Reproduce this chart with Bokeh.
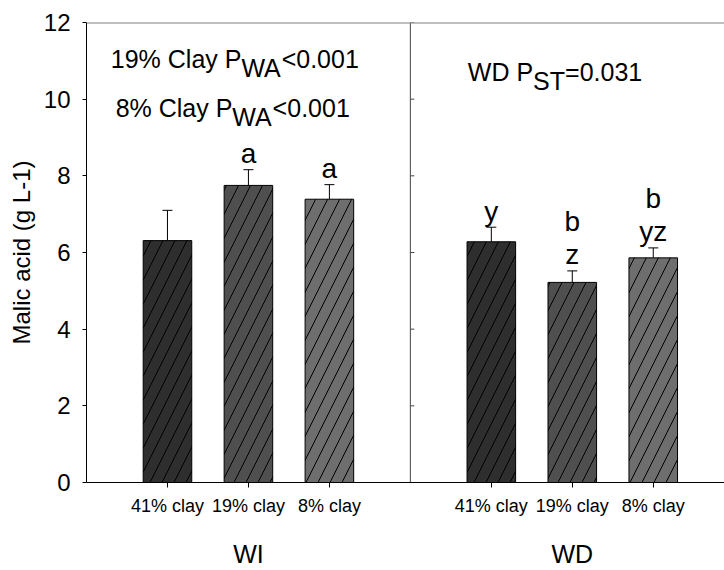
from bokeh.plotting import figure
from bokeh.models import (ColumnDataSource, Range1d, FixedTicker, LinearAxis, Span,
                          Whisker, TeeHead, Label)
from bokeh.embed import file_html
from bokeh.resources import INLINE

# ---- data ----
groups = ["WI", "WD"]
soils = ["41% clay", "19% clay", "8% clay"]
wi_means = [6.31, 7.75, 7.39]
wi_errs = [0.79, 0.41, 0.38]
wd_means = [6.28, 5.22, 5.86]
wd_errs = [0.38, 0.30, 0.26]
wi_letters = [[], ["a"], ["a"]]
wd_letters = [["y"], ["z", "b"], ["yz", "b"]]
soil_colors = ["#2e2e2e", "#4f4f4f", "#6e6e6e"]
y_ticks = [0, 2, 4, 6, 8, 10, 12]

FONT = "Liberation Sans"

# positions: group g, soil i -> g*4 + i + 1
xs, tops, errs, cols, labels_list, tick_labels = [], [], [], [], [], {}
for g, (means, es, lets) in enumerate([(wi_means, wi_errs, wi_letters),
                                       (wd_means, wd_errs, wd_letters)]):
    for i in range(3):
        x = g * 4 + i + 1
        xs.append(x)
        tops.append(means[i])
        errs.append(es[i])
        cols.append(soil_colors[i])
        labels_list.append(lets[i])
        tick_labels[x] = soils[i]

src = ColumnDataSource(dict(x=xs, top=tops, upper=[t + e for t, e in zip(tops, errs)],
                            color=cols))

p = figure(width=724, height=570, output_backend="svg", toolbar_location=None,
           x_range=Range1d(0.0, 7.88), y_range=Range1d(0, 12),
           min_border_left=86, min_border_right=0, min_border_top=22, min_border_bottom=88)
p.outline_line_color = None
p.grid.visible = False
p.background_fill_color = "white"

p.vbar(x="x", top="top", bottom=0, width=0.6, source=src, fill_color="color",
       line_color="black", line_width=1, hatch_pattern="/", hatch_color="black",
       hatch_scale=24, hatch_weight=1)

wh = Whisker(base="x", lower="top", upper="upper", source=src, dimension="height",
             line_color="black", line_width=1,
             upper_head=TeeHead(size=10, line_color="black", line_width=1), lower_head=None)
p.add_layout(wh)

# divider and top border
p.add_layout(Span(location=4, dimension="height", line_color="#444444", line_width=1))
p.add_layout(Span(location=12, dimension="width", line_color="#808080", line_width=2))
p.segment(x0=[4] * len(y_ticks), x1=[4 + 4 / 81] * len(y_ticks), y0=y_ticks, y1=y_ticks,
          line_color="#444444", line_width=1)

# axes
p.yaxis.ticker = FixedTicker(ticks=y_ticks)
p.yaxis.minor_tick_line_color = None
p.yaxis.major_tick_out = 4
p.yaxis.major_tick_in = 0
p.yaxis.major_label_text_font = FONT
p.yaxis.major_label_text_font_size = "24px"
p.yaxis.major_label_text_color = "black"
p.yaxis.major_label_standoff = 12
p.yaxis.axis_line_color = "black"
p.yaxis.major_tick_line_color = "black"
p.yaxis.axis_label = "Malic acid (g L-1)"
p.yaxis.axis_label_text_font = FONT
p.yaxis.axis_label_text_font_size = "24px"
p.yaxis.axis_label_text_font_style = "normal"
p.yaxis.axis_label_text_color = "black"
p.yaxis.axis_label_standoff = 6

p.xaxis.ticker = FixedTicker(ticks=xs)
p.xaxis.major_label_overrides = tick_labels
p.xaxis.minor_tick_line_color = None
p.xaxis.major_tick_out = 5
p.xaxis.major_tick_in = 0
p.xaxis.major_label_text_font = FONT
p.xaxis.major_label_text_font_size = "18px"
p.xaxis.major_label_text_color = "black"
p.xaxis.major_label_standoff = 8
p.xaxis.axis_line_color = "black"

gaxis = LinearAxis(ticker=FixedTicker(ticks=[2, 6]),
                   major_label_overrides={2: groups[0], 6: groups[1]})
gaxis.axis_line_color = None
gaxis.major_tick_line_color = None
gaxis.minor_tick_line_color = None
gaxis.major_label_text_font = FONT
gaxis.major_label_text_font_size = "25px"
gaxis.major_label_text_color = "black"
gaxis.major_label_standoff = 15
p.add_layout(gaxis, "below")

# significance letters above error bars
for x, up, lets in zip(xs, src.data["upper"], labels_list):
    for k, t in enumerate(lets):
        p.add_layout(Label(x=x, y=up, text=t, text_align="center", text_baseline="alphabetic",
                           y_offset=16 + 33 * k, text_font=FONT, text_font_size="28px",
                           text_color="black"))

# annotation texts with subscripts
W = {'1': 556, '9': 556, '%': 889, ' ': 278, 'C': 722, 'l': 222, 'a': 556, 'y': 500,
     'P': 667, 'W': 944, 'A': 667, '<': 584, '0': 556, '.': 278, '8': 556, 'D': 722,
     'S': 667, 'T': 611, '=': 584, '3': 556}


def tw(s, size):
    return sum(W.get(c, 556) for c in s) * size / 1000.0


def sub_label(x, y, parts, size=25):
    off = 0.0
    for txt, is_sub in parts:
        p.add_layout(Label(x=x, y=y, text=txt, x_offset=off, y_offset=-1 if is_sub else 8,
                           text_align="left", text_baseline="alphabetic", text_font=FONT,
                           text_font_size=f"{size}px", text_color="black"))
        off += tw(txt, size)


sub_label(0.30, 10.83, [("19% Clay P", False), ("WA", True), ("<0.001", False)])
sub_label(0.36, 9.57, [("8% Clay P", False), ("WA", True), ("<0.001", False)])
sub_label(4.71, 10.51, [("WD P", False), ("ST", True), ("=0.031", False)])

open("out.html", "w").write(file_html(p, INLINE))
